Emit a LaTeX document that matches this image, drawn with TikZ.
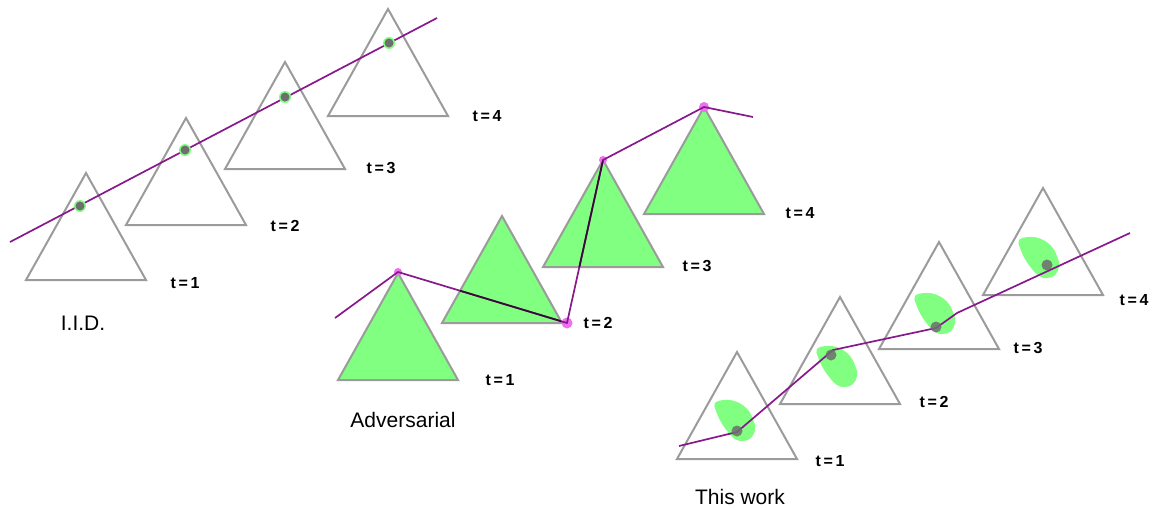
\documentclass[tikz,border=0pt]{standalone}
\usepackage{fontspec}
\setmainfont{Liberation Sans}
\definecolor{trigray}{RGB}{155,155,155}
\definecolor{simgreen}{RGB}{128,255,128}
\definecolor{pathpurple}{RGB}{135,25,140}
\definecolor{darkpath}{RGB}{55,10,55}
\definecolor{dotgray}{RGB}{110,110,110}
\definecolor{pinkdot}{RGB}{240,110,240}
\tikzset{
  tri/.style={draw=trigray, line width=2pt, line join=miter},
  traj/.style={draw=pathpurple, line width=1.7pt, line join=round},
  tlabel/.style={font=\bfseries\fontsize{16}{16}\selectfont, inner sep=0pt},
  caption/.style={font=\fontsize{21}{21}\selectfont, inner sep=0pt},
}
\newcommand\mytri[3]{\path[tri,#3] (#1,#2) -- ++(60,107) -- ++(-120,0) -- cycle;}
\newcommand\myblob[2]{\fill[simgreen, shift={(#1,#2)}] plot[smooth cycle, tension=0.7] coordinates {(0,3) (10,0) (22,2) (33,10) (39,22) (40,30) (36,38) (28,41) (20,39) (13,32) (6,22) (1,11)};}
\begin{document}
\begin{tikzpicture}[x=1pt,y=-1pt]
\useasboundingbox (0,0) rectangle (1154,509);
% ---------- I.I.D. ----------
\mytri{86}{173}{}
\mytri{186}{118}{}
\mytri{285}{62}{}
\mytri{388}{9}{}
\coordinate (i0) at (10,242);
\coordinate (i5) at (437,18);
\draw[traj] (i0) -- (i5);
\foreach \x/\y in {80/206, 185/150, 285/97, 389/43}{
  \fill[simgreen] (\x,\y) circle (6);
  \fill[dotgray] (\x,\y) circle (4.5);
}
\node[tlabel] (il1) at (185,283) {t\,=\,1};
\node[tlabel] (il2) at (285,226) {t\,=\,2};
\node[tlabel] (il3) at (381,168) {t\,=\,3};
\node[tlabel] (il4) at (487,116) {t\,=\,4};
\node[caption] (iid) at (83,323) {I.I.D.};
% ---------- Adversarial ----------
\mytri{398}{273}{fill=simgreen}
\mytri{502}{216}{fill=simgreen}
\mytri{603}{160}{fill=simgreen}
\mytri{704}{107}{fill=simgreen}
\coordinate (a0) at (335,318);
\coordinate (a1) at (398,272);
\coordinate (a2) at (567,323);
\coordinate (a3) at (603,160);
\coordinate (a4) at (704,107);
\coordinate (a5) at (753,117);
\foreach \c/\r in {a1/4, a2/5.5, a3/4, a4/5}{
  \fill[pinkdot] (\c) circle (\r);
}
\draw[traj] (a0) -- (a1) -- (a2) -- (a3) -- (a4) -- (a5);
\begin{scope}
  \clip (502,216) -- ++(60,107) -- ++(-120,0) -- cycle
        (603,160) -- ++(60,107) -- ++(-120,0) -- cycle;
  \draw[traj, draw=darkpath] (a1) -- (a2) -- (a3);
\end{scope}
\node[tlabel] (al1) at (500,380) {t\,=\,1};
\node[tlabel] (al2) at (598,323) {t\,=\,2};
\node[tlabel] (al3) at (697,266) {t\,=\,3};
\node[tlabel] (al4) at (800,213) {t\,=\,4};
\node[caption] (adv) at (403,420) {Adversarial};
% ---------- This work ----------
\mytri{737}{352}{}
\mytri{840}{297}{}
\mytri{939}{242}{}
\mytri{1043}{188}{}
\myblob{715}{400}
\myblob{817}{346}
\myblob{915}{293}
\myblob{1019}{237}
\coordinate (w0) at (679,446);
\coordinate (w1) at (737,432);
\coordinate (w2) at (833,350);
\coordinate (w3) at (936,328);
\coordinate (w4) at (957,313);
\coordinate (w5) at (1130,233);
\draw[traj] (w0) -- (w1) -- (w2) -- (w3) -- (w4) -- (w5);
\foreach \x/\y in {737/431, 831/355, 936/327, 1047/265}{
  \fill[dotgray, opacity=0.85] (\x,\y) circle (5.5);
}
\node[tlabel] (wl1) at (830,461) {t\,=\,1};
\node[tlabel] (wl2) at (934,402) {t\,=\,2};
\node[tlabel] (wl3) at (1028,348) {t\,=\,3};
\node[tlabel] (wl4) at (1134,300) {t\,=\,4};
\node[caption] (tw) at (740,497) {This work};
\end{tikzpicture}
\end{document}
